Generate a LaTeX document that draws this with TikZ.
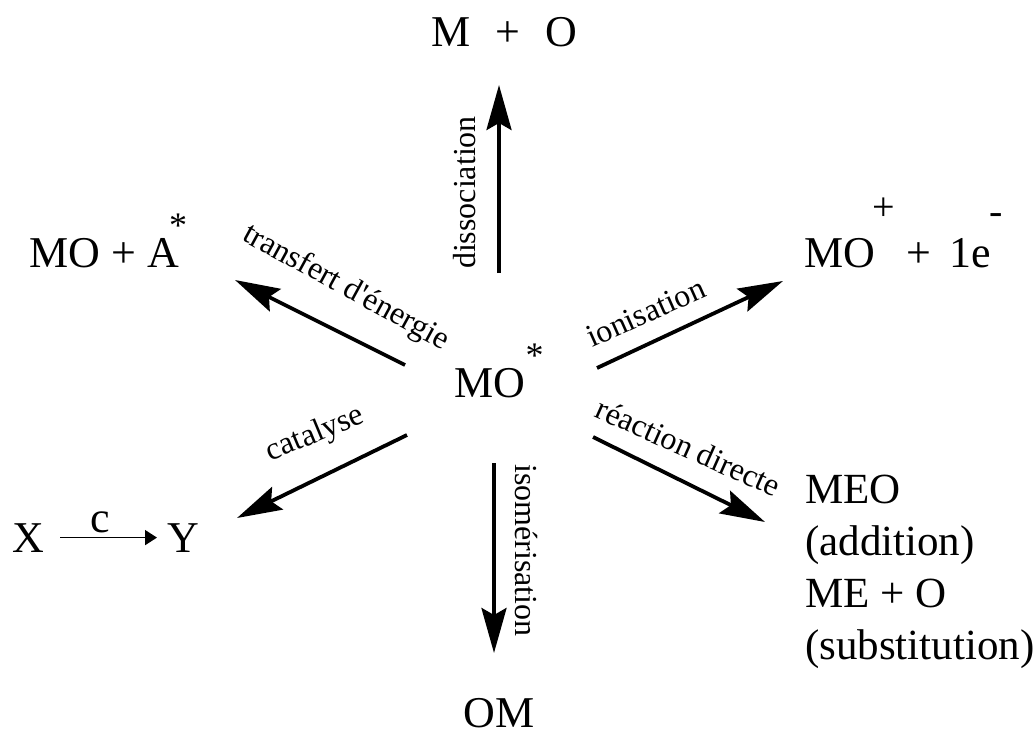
\documentclass[tikz,border=0pt]{standalone}
\usepackage{fontspec}
\setmainfont{Liberation Serif}
\usetikzlibrary{arrows.meta}
\tikzset{
  pfeil/.style={-{Stealth[length=45pt,width=25pt,inset=7pt]},line width=3.8pt},
  kat/.style={-{Triangle[length=12pt,width=15pt]},line width=1.7pt},
  gross/.style={inner sep=0pt,font=\fontsize{44}{52}\selectfont},
  klein/.style={inner sep=0pt,font=\fontsize{32}{38}\selectfont,anchor=base},
}
\newcommand{\hoch}[3]{\raisebox{#1}{\fontsize{#2}{#2}\selectfont #3}}

\begin{document}
\begin{tikzpicture}[x=1pt,y=-1pt]
\useasboundingbox (0,0) rectangle (1036,733);
% Zentrum und Produkte
\node[gross,anchor=base west] (MOs) at (454.5,397) {MO\hoch{30pt}{36}{*}};
\node[gross,anchor=base west] (MpO) at (431.5,47) {M\hspace{25pt}+\hspace{25pt}O};
\node[gross,anchor=base west] (OM) at (463.5,727.5) {OM};
\node[gross,anchor=base west] (MOA) at (29.5,267) {MO + A\kern-10pt\hoch{30pt}{36}{*}};
\node[gross,anchor=base west] (MOe) at (804.5,267)
  {MO\kern-3pt\hoch{47pt}{40}{+}\ +\hspace{19pt}1e\kern-2pt\hoch{43pt}{40}{-}};
% base = Grundlinie der letzten Zeile
\node[gross,anchor=base west,align=left,font=\fontsize{43}{52}\selectfont] (MEO) at (805,659)
  {MEO\\(addition)\\ME + O\\(substitution)};
% X --c--> Y
\node[gross,anchor=base west] (X) at (12,552) {X};
\node[gross,anchor=base west] (Y) at (167,552) {Y};
\draw[kat] ([xshift=16pt]X.east) -- ([xshift=-10pt]Y.west);
\node[gross,anchor=base] (c) at (100,532) {c};
% Pfeile
\coordinate (up-a) at (499,273);
\coordinate (up-b) at (499,85);
\coordinate (dn-a) at (494,463);
\coordinate (dn-b) at (494,653);
\coordinate (ul-a) at (405,365);
\coordinate (ul-b) at (235,280);
\coordinate (ll-a) at (407,435);
\coordinate (ll-b) at (237,518);
\coordinate (ur-a) at (597,368);
\coordinate (ur-b) at (783,281);
\coordinate (lr-a) at (593,437);
\coordinate (lr-b) at (765,522);
\draw[pfeil] (up-a) -- (up-b);
\draw[pfeil] (dn-a) -- (dn-b);
\draw[pfeil] (ul-a) -- (ul-b);
\draw[pfeil] (ll-a) -- (ll-b);
\draw[pfeil] (ur-a) -- (ur-b);
\draw[pfeil] (lr-a) -- (lr-b);
% Beschriftungen
\node[klein,rotate=90] (dis) at (475,192.5) {dissociation};
\node[klein,rotate=-90] (iso) at (515,550.5) {isomérisation};
\node[klein,rotate=-28.7] (tra) at (342,295) {transfert d\textquotesingle énergie};
\node[klein,rotate=22.5] (cat) at (318.3,441.7) {catalyse};
\node[klein,rotate=24] (ion) at (650,322) {ionisation};
\node[klein,rotate=-24] (rea) at (684,457) {réaction directe};
\end{tikzpicture}
\end{document}
